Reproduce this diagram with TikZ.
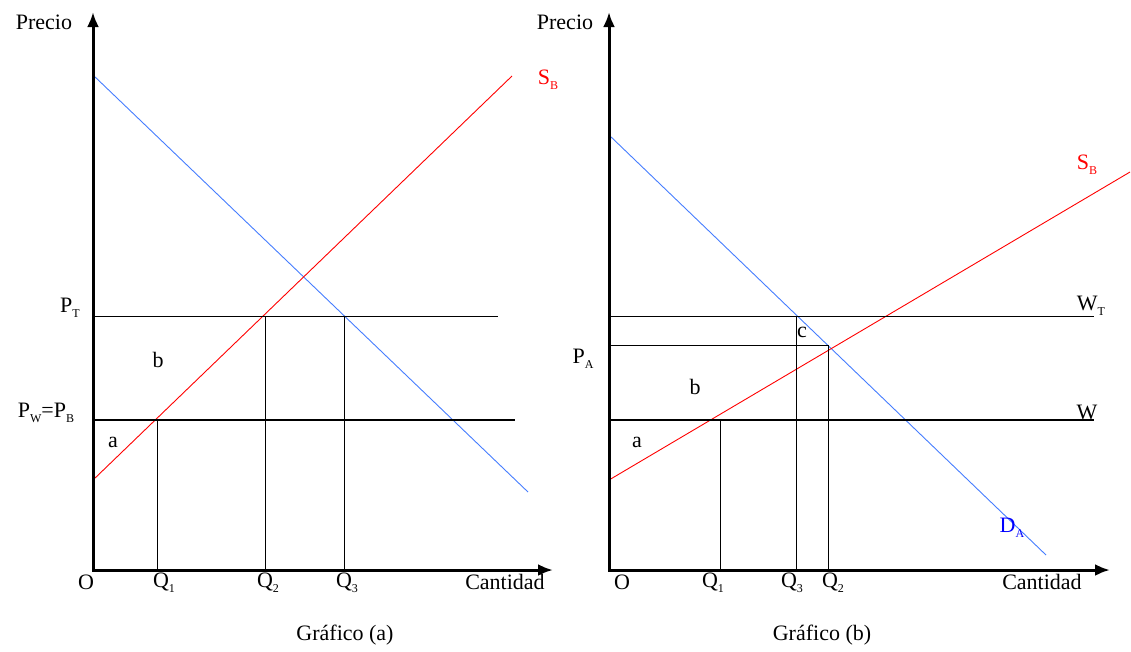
\documentclass[tikz,border=0pt]{standalone}
\usepackage{fontspec}
\setmainfont{Liberation Serif}
\usetikzlibrary{arrows.meta}
\newcommand\lowsub[1]{\raisebox{-0.5ex}{\fontsize{12}{12}\selectfont #1}}

\begin{document}
\begin{tikzpicture}[x=1pt,y=-1pt,
  axis/.style={line width=3pt,{Latex[length=15pt,width=12pt]}-{Latex[length=15pt,width=12pt]}},
  guide/.style={line width=0.9pt},
  floor/.style={line width=2.4pt},
  demand/.style={color={rgb,255:red,70;green,125;blue,255},line width=0.9pt},
  supply/.style={red,line width=0.9pt},
  lbl/.style={font=\fontsize{22}{24}\selectfont,inner sep=0pt}]
\useasboundingbox (0,0) rectangle (1131,651);

% Grafico (a)
\draw[demand](93,75)--(528,492);
\draw[supply](93,480)--(512,76);
\draw[guide](93,316)--(498,316)
(157,420)--(157,570)
(265,316)--(265,570)
(344,316)--(344,570);
\draw[floor](93,420)--(515,420);
\draw[axis](93,12)--(93,570)--(553,570);
\node[lbl](precioA) at (44,22){Precio};
\node[lbl](ptA) at (70,308){P\lowsub{T}};
\node[lbl](pwA) at (46,413){P\lowsub{W}=P\lowsub{B}};
\node[lbl](bA) at (158,360){b};
\node[lbl](aA) at (113,442){a};
\node[lbl](oA) at (86,582){O};
\node[lbl](q1A) at (164,583){Q\lowsub{1}};
\node[lbl](q2A) at (268,583){Q\lowsub{2}};
\node[lbl](q3A) at (347,583){Q\lowsub{3}};
\node[lbl](cantA) at (505,582){Cantidad};
\node[lbl,red](sbA) at (548,80){S\lowsub{B}};
\node[lbl](titA) at (345,635){Gráfico (a)};

% Grafico (b)
\draw[demand](609,135)--(1046,555);
\draw[supply](609,480)--(1130,172);
\draw[guide](609,316)--(1094,316)
(609,345)--(828,345)
(720,420)--(720,570)
(796,316)--(796,570)
(828,345)--(828,570);
\draw[floor](609,420)--(1094,420);
\draw[axis](609,12)--(609,570)--(1110,570);
\node[lbl](precioB) at (565,22){Precio};
\node[lbl](paB) at (583,359){P\lowsub{A}};
\node[lbl](bB) at (695,387){b};
\node[lbl](aB) at (637,442){a};
\node[lbl](cB) at (802,332){c};
\node[lbl](oB) at (622,582){O};
\node[lbl](q1B) at (713,583){Q\lowsub{1}};
\node[lbl](q3B) at (792,583){Q\lowsub{3}};
\node[lbl](q2B) at (833,583){Q\lowsub{2}};
\node[lbl](cantB) at (1042,582){Cantidad};
\node[lbl,red](sbB) at (1087,165){S\lowsub{B}};
\node[lbl,blue](daB) at (1012,528){D\lowsub{A}};
\node[lbl](wtB) at (1091,306){W\lowsub{T}};
\node[lbl](wB) at (1087,412){W};
\node[lbl](titB) at (822,635){Gráfico (b)};
\end{tikzpicture}
\end{document}
